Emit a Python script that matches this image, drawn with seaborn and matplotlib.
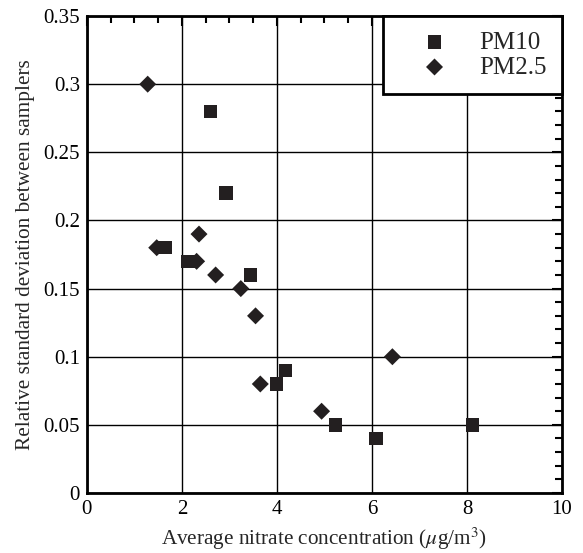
import matplotlib
matplotlib.use("Agg")
import matplotlib.pyplot as plt
import seaborn as sns
import pandas as pd
from matplotlib.ticker import MultipleLocator

# data
pm10_x = [1.64, 2.13, 2.60, 2.93, 3.44, 3.99, 4.18, 5.23, 6.08, 8.12]
pm10_y = [0.18, 0.17, 0.28, 0.22, 0.16, 0.08, 0.09, 0.05, 0.04, 0.05]
pm25_x = [1.28, 1.47, 2.31, 2.36, 2.71, 3.24, 3.55, 3.65, 4.94, 6.43]
pm25_y = [0.30, 0.18, 0.17, 0.19, 0.16, 0.15, 0.13, 0.08, 0.06, 0.10]

df10 = pd.DataFrame({"x": pm10_x, "y": pm10_y})
df25 = pd.DataFrame({"x": pm25_x, "y": pm25_y})

sns.set_style("white")
plt.rcParams["font.family"] = ["Liberation Serif", "DejaVu Serif"]
plt.rcParams["mathtext.fontset"] = "stix"

ink = "#231f20"
fig = plt.figure(figsize=(5.83, 5.53), dpi=100)
ax = fig.add_axes([0.149, 0.1085, 0.815, 0.8625])

sns.scatterplot(data=df10, x="x", y="y", marker="s", s=95, color=ink,
                edgecolor="none", label="PM10", ax=ax, zorder=3)
sns.scatterplot(data=df25, x="x", y="y", marker="D", s=75, color=ink,
                edgecolor="none", label="PM2.5", ax=ax, zorder=3)

ax.set_xlim(0, 10)
ax.set_ylim(0, 0.35)
ax.xaxis.set_major_locator(MultipleLocator(2))
ax.xaxis.set_minor_locator(MultipleLocator(0.5))
ax.yaxis.set_minor_locator(MultipleLocator(0.01))
ax.set_yticks([0, 0.05, 0.1, 0.15, 0.2, 0.25, 0.3, 0.35])
ax.set_yticklabels(["0", "0.05", "0.1", "0.15", "0.2", "0.25", "0.3", "0.35"])
ax.grid(True, which="major", color="black", linewidth=1.0, zorder=1)
ax.set_axisbelow(True)
ax.tick_params(which="both", direction="in", top=True, right=True,
               colors="black", labelsize=15)
ax.tick_params(which="major", length=7, width=1.5, pad=5)
ax.tick_params(which="minor", length=5, width=1.5)
for sp in ax.spines.values():
    sp.set_color("black")
    sp.set_linewidth(2)

ax.set_xlabel(r"Average nitrate concentration ($\mu$g/m$^3$)", fontsize=15.3, labelpad=5)
ax.set_ylabel("Relative standard deviation between samplers", fontsize=15.3, labelpad=6)

leg = ax.legend(loc="upper right", bbox_to_anchor=(1.0, 1.0), borderaxespad=0,
                fontsize=18, frameon=True, fancybox=False, framealpha=1,
                edgecolor="black", borderpad=0.6, handletextpad=0.35,
                labelspacing=0.1, handlelength=2.9)
leg.get_frame().set_linewidth(2)
leg.set_zorder(5)

fig.savefig("out.png", dpi=100)
